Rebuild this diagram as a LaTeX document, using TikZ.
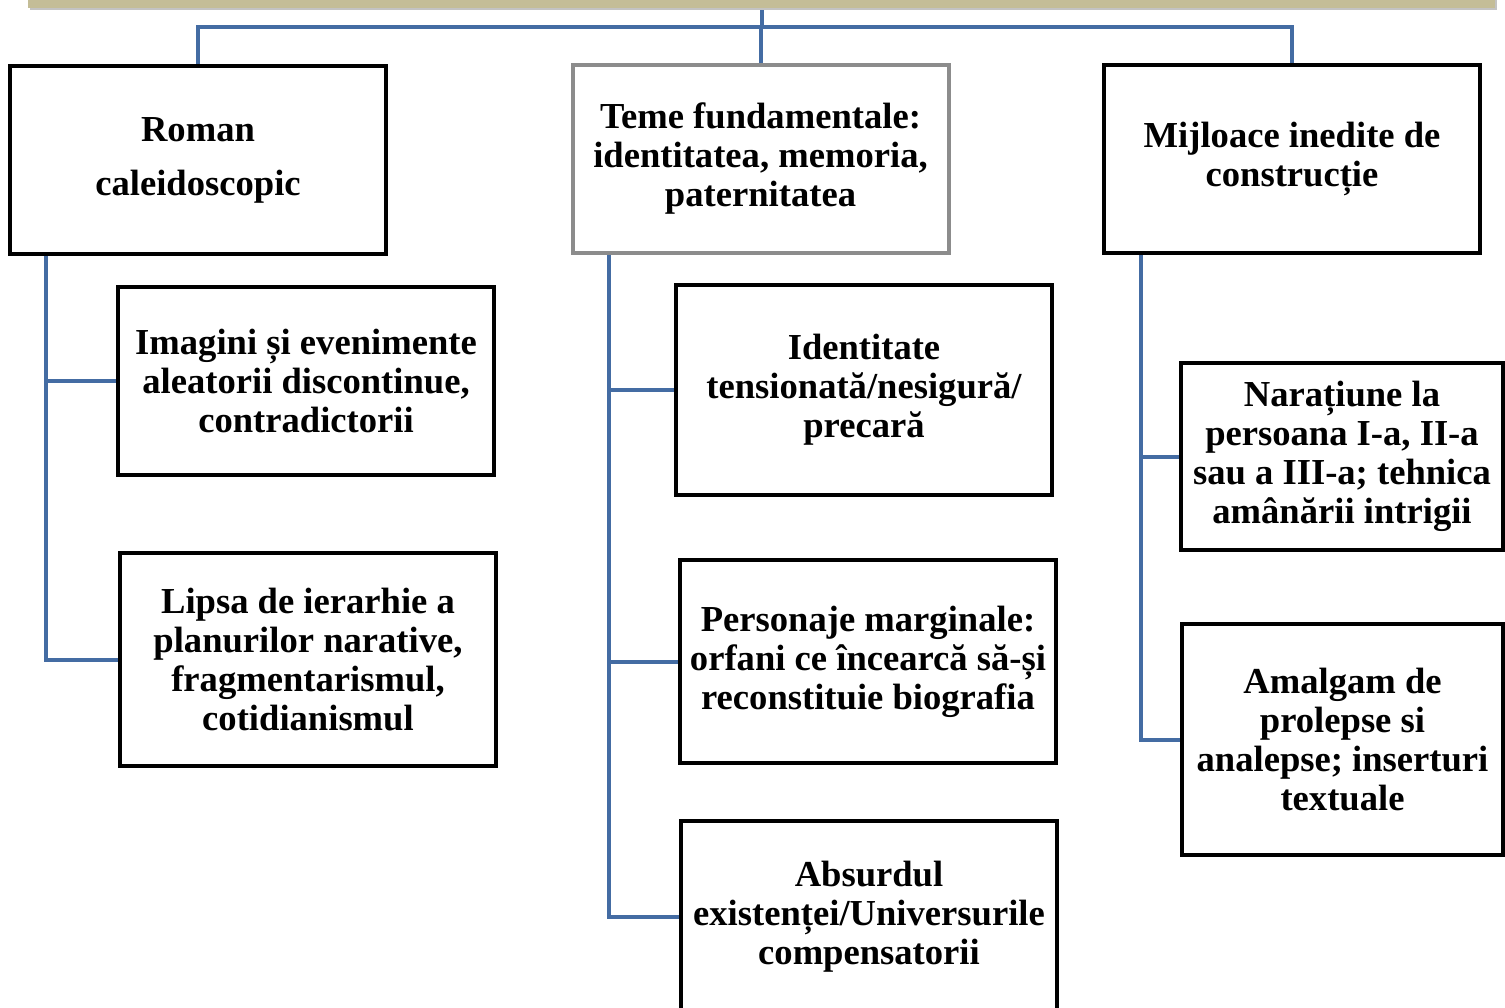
\documentclass[tikz,border=0pt]{standalone}
\usepackage{fontspec}
\setmainfont{Liberation Serif}
\usepackage{tikz}
\usepackage{xcolor}
\usetikzlibrary{backgrounds}
\definecolor{linkblue}{RGB}{68,108,163}
\definecolor{bartan}{RGB}{196,189,151}
\definecolor{bargray}{RGB}{195,195,195}
\tikzset{
    plain-box/.style = {draw=black, fill=white, line width=2pt, rectangle, inner sep=2pt, align=center, font=\fontsize{18.3}{19.5}\selectfont\bfseries, execute at begin node={\rule{0pt}{16.5pt}}},
    head-box/.style = {plain-box, minimum width=188pt, minimum height=94pt},
    grey-box/.style = {head-box, draw=gray!90},
    link-line/.style = {draw=linkblue, line width=2pt},
}

\begin{document}
\begin{tikzpicture}[x=0.5pt, y=-0.5pt]
\useasboundingbox (0,0) rectangle (1505,1007);
% bar at the top
\fill[bargray] (30,-6) rectangle (1497,10);
\fill[bartan] (28,-6) rectangle (1495,8);
\coordinate (root) at (762,10);

% three heads
\node[head-box] (roman) at (198,160) {Roman\\[7.5pt]caleidoscopic};
\node[grey-box] (teme) at (760.5,159) {Teme fundamentale:\\identitatea, memoria,\\paternitatea};
\node[head-box] (mijloace) at (1292,159) {Mijloace inedite de\\construcție};

% left column
\node[plain-box, minimum width=188pt, minimum height=94pt] (imagini) at (306,381) {Imagini și evenimente\\aleatorii discontinue,\\contradictorii};
\node[plain-box, minimum width=188pt, minimum height=106.5pt] (lipsa) at (308,659.5) {Lipsa de ierarhie a\\planurilor narative,\\fragmentarismul,\\cotidianismul};

% middle column
\node[plain-box, minimum width=188pt, minimum height=105pt] (identitate) at (864,390) {Identitate\\tensionată/nesigură/\\precară};
\node[plain-box, minimum width=188pt, minimum height=101.5pt] (personaje) at (868,661.5) {Personaje marginale:\\orfani ce încearcă să-și\\reconstituie biografia};
\node[plain-box, minimum width=188pt, minimum height=96pt] (absurdul) at (869,917) {Absurdul\\existenței/Universurile\\compensatorii};

% right column
\node[plain-box, minimum width=161pt, minimum height=93.5pt] (naratiune) at (1342,456.5) {Narațiune la\\persoana I-a, II-a\\sau a III-a;  tehnica\\amânării intrigii};
\node[plain-box, minimum width=160.5pt, minimum height=115.5pt] (amalgam) at (1342.5,739.5) {Amalgam de\\prolepse si\\analepse; inserturi\\textuale};

\begin{scope}[on background layer]
% top links
\draw[link-line] (root) -- ++(0,17) -| (roman.north);
\draw[link-line] (root) -- ++(0,17) -| (mijloace.north);
\draw[link-line] (root) -- ++(0,17) -| (teme.north);
% left links
\draw[link-line] (roman.south west) ++(38,0) |- (imagini.west);
\draw[link-line] (roman.south west) ++(38,0) |- (lipsa.west);
% middle links
\draw[link-line] (teme.south west) ++(38,0) |- (identitate.west);
\draw[link-line] (teme.south west) ++(38,0) |- (personaje.west);
\draw[link-line] (teme.south west) ++(38,0) |- (absurdul.west);
% right links
\draw[link-line] (mijloace.south west) ++(39,0) |- (naratiune.west);
\draw[link-line] (mijloace.south west) ++(39,0) |- (amalgam.west);
\end{scope}
\end{tikzpicture}
\end{document}
